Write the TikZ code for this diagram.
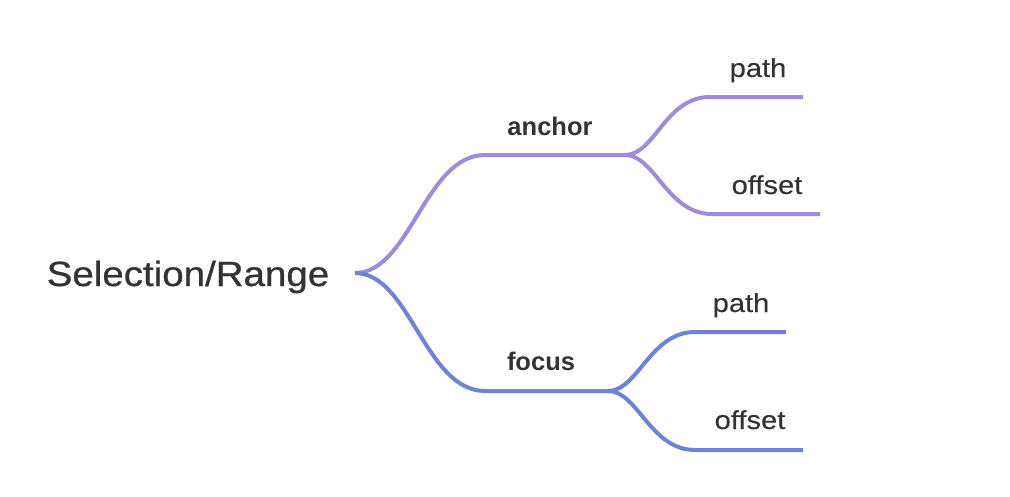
\documentclass[tikz,border=0pt]{standalone}
\usepackage{fontspec}
\setmainfont{Liberation Sans}
\newfontfamily\medfont[FakeBold=0.8]{Liberation Sans}
\newfontfamily\leaffont[FakeBold=0.25]{Liberation Sans}
\definecolor{purp}{HTML}{A08BDA}
\definecolor{blu}{HTML}{6F83D5}
\definecolor{txt}{HTML}{333333}
\begin{document}
\begin{tikzpicture}[x=1pt,y=-1pt,
  branch/.style={line width=4pt},
  roottext/.style={anchor=base,text=txt,inner sep=0pt,font=\medfont\fontsize{35}{40}\selectfont},
  midtext/.style={anchor=base,text=txt,inner sep=0pt,font=\bfseries\fontsize{25.5}{30}\selectfont},
  leaftext/.style={anchor=base,text=txt,inner sep=0pt,font=\leaffont\fontsize{26}{30}\selectfont}]
\useasboundingbox (0,0) rectangle (1010,496);
% coordinates
\coordinate (r) at (355,273);
\coordinate (a0) at (485,155);
\coordinate (a) at (625,155);
\coordinate (ap0) at (710,97);
\coordinate (ap) at (803,97);
\coordinate (ao0) at (712,214);
\coordinate (ao) at (820,214);
\coordinate (f0) at (485,391);
\coordinate (f) at (608,391);
\coordinate (fp0) at (695,332);
\coordinate (fp) at (786,332);
\coordinate (fo0) at (695,450);
\coordinate (fo) at (803,450);
% texts
\node[roottext] (root) at (188,286) {\scalebox{1.1}[1]{Selection/Range}};
\node[midtext] (anchor) at (550,135) {anchor};
\node[midtext] (focus) at (541,370) {focus};
\node[leaftext] (apt) at (758,77) {\scalebox{1.12}[1]{path}};
\node[leaftext] (aot) at (767,194) {\scalebox{1.12}[1]{offset}};
\node[leaftext] (fpt) at (741,312) {\scalebox{1.12}[1]{path}};
\node[leaftext] (fot) at (750,429) {\scalebox{1.12}[1]{offset}};
% branches
\draw[branch,purp] (r) .. controls +(55,0) and +(-60,0) .. (a0) -- (a);
\draw[branch,blu] (r) .. controls +(55,0) and +(-60,0) .. (f0) -- (f);
\draw[branch,purp] (a) .. controls +(30,0) and +(-45,0) .. (ap0) -- (ap);
\draw[branch,purp] (a) .. controls +(30,0) and +(-45,0) .. (ao0) -- (ao);
\draw[branch,blu] (f) .. controls +(30,0) and +(-45,0) .. (fp0) -- (fp);
\draw[branch,blu] (f) .. controls +(30,0) and +(-45,0) .. (fo0) -- (fo);
\end{tikzpicture}
\end{document}
